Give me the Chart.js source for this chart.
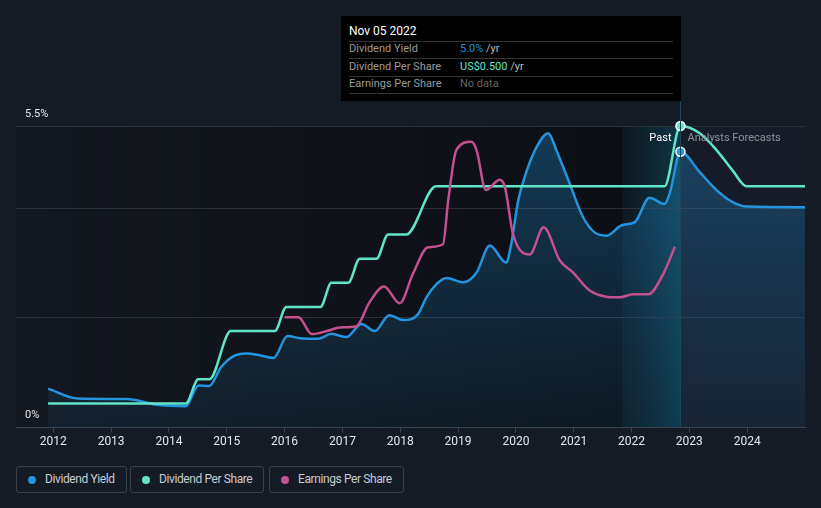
<!DOCTYPE html>
<html>
<head>
<meta charset="utf-8">
<script src="https://cdn.jsdelivr.net/npm/chart.js@4.4.0/dist/chart.umd.min.js"></script>
<style>
  body { margin: 0; background: #151b25; width: 821px; height: 508px; overflow: hidden; position: relative; font-family: Roboto, "Open Sans", sans-serif; }
  #chart { position: absolute; left: 0; top: 0; }
  .tip { position: absolute; left: 341px; top: 16px; width: 340px; height: 85px; background: #000; }
  .tip div { position: absolute; height: 16px; line-height: 16px; white-space: nowrap; font-size: 11px; }
  .tip .sep { height: 0; line-height: 0; left: 8px; width: 324px; border-top: 1px solid #333; }
  .tip .date { left: 8px; top: 7px; color: #fff; font-size: 12px; }
  .tip .lab { left: 8px; color: #9b9b9b; }
  .tip .val { left: 119px; color: #bbb; }
  .legend div.item { position: absolute; top: 466px; height: 27px; box-sizing: border-box; border: 1px solid #3a404c; border-radius: 3px; }
  .legend .dot { position: absolute; left: 11px; top: 9px; width: 8px; height: 8px; border-radius: 50%; }
  .legend .txt { position: absolute; left: 28px; top: 0; line-height: 25px; font-size: 12px; letter-spacing: -0.4px; color: #c9ccd2; white-space: nowrap; }
</style>
</head>
<body>
<canvas id="chart" width="821" height="460"></canvas>

<div class="tip">
  <div class="date">Nov 05 2022</div>
  <div class="sep" style="top:25px"></div>
  <div class="lab" style="top:25px">Dividend Yield</div>
  <div class="val" style="top:25px"><span style="color:#2394df">5.0%</span> /yr</div>
  <div class="sep" style="top:42px"></div>
  <div class="lab" style="top:43px">Dividend Per Share</div>
  <div class="val" style="top:43px"><span style="color:#61e5c9">US$0.500</span> /yr</div>
  <div class="sep" style="top:60px"></div>
  <div class="lab" style="top:60px">Earnings Per Share</div>
  <div class="val" style="top:60px; color:#666">No data</div>
  <div class="sep" style="top:77px"></div>
</div>

<div class="legend">
  <div class="item" style="left:16px; width:111px"><span class="dot" style="background:#2394df"></span><span class="txt">Dividend Yield</span></div>
  <div class="item" style="left:130px; width:134px"><span class="dot" style="background:#61e5c9"></span><span class="txt">Dividend Per Share</span></div>
  <div class="item" style="left:269px; width:135px"><span class="dot" style="background:#c4508f"></span><span class="txt">Earnings Per Share</span></div>
</div>

<script>
// x values are decimal years
const yieldDates = [2011.91, 2012.42, 2013.26, 2013.83, 2014.29, 2014.51, 2014.70, 2014.90, 2015.11, 2015.34,
  2015.57, 2015.81, 2016.05, 2016.27, 2016.58, 2016.81, 2017.07, 2017.33, 2017.56, 2017.81,
  2018.05, 2018.31, 2018.45, 2018.63, 2018.80, 2019.09, 2019.32, 2019.55, 2019.83, 2019.92,
  2020.04, 2020.18, 2020.36, 2020.56, 2020.70, 2020.93, 2021.16, 2021.36, 2021.57, 2021.83,
  2022.06, 2022.31, 2022.57, 2022.66, 2022.846, 2023.18, 2023.47, 2023.75, 2023.99, 2025.0];
const yieldValues = [0.71, 0.53, 0.52, 0.41, 0.39, 0.77, 0.76, 1.10, 1.30, 1.35,
  1.32, 1.27, 1.67, 1.63, 1.62, 1.71, 1.65, 1.89, 1.76, 2.05,
  1.96, 2.07, 2.37, 2.62, 2.73, 2.65, 2.83, 3.32, 3.01, 3.35,
  4.14, 4.66, 5.12, 5.37, 5.06, 4.45, 3.84, 3.56, 3.50, 3.69,
  3.75, 4.19, 4.08, 4.27, 5.03, 4.66, 4.33, 4.11, 4.03, 4.02];

const dpsDates = [2011.91, 2014.29, 2014.51, 2014.70, 2015.07, 2015.83, 2016.03, 2016.62, 2016.81, 2017.10,
  2017.30, 2017.59, 2017.79, 2018.10, 2018.62, 2022.57, 2022.846, 2023.18, 2023.47, 2023.75, 2023.99, 2025.0];
const dpsValues = [0.04, 0.04, 0.08, 0.08, 0.16, 0.16, 0.20, 0.20, 0.24, 0.24,
  0.28, 0.28, 0.32, 0.32, 0.40, 0.40, 0.50, 0.488, 0.46, 0.426, 0.40, 0.40];

const epsDates = [2016.0, 2016.24, 2016.47, 2016.73, 2016.96, 2017.24, 2017.47, 2017.72, 2017.99, 2018.22,
  2018.48, 2018.74, 2018.83, 2018.97, 2019.23, 2019.32, 2019.48, 2019.72, 2019.81, 2019.95,
  2020.24, 2020.48, 2020.76, 2020.99, 2021.28, 2021.80, 2022.03, 2022.29, 2022.55, 2022.75];
const epsValues = [0.183, 0.183, 0.155, 0.160, 0.166, 0.168, 0.208, 0.234, 0.206, 0.255,
  0.299, 0.304, 0.377, 0.460, 0.474, 0.460, 0.394, 0.411, 0.399, 0.321,
  0.287, 0.332, 0.277, 0.257, 0.227, 0.216, 0.221, 0.221, 0.255, 0.300];

const yearTicks = [2012, 2013, 2014, 2015, 2016, 2017, 2018, 2019, 2020, 2021, 2022, 2023, 2024];
const yieldTicks = [0, 2, 4, 5.5];
const forecastStart = 2022.846;
const pastBandStart = 2021.84;

const toPoints = (xs, ys) => xs.map((x, i) => ({ x, y: ys[i] }));
const markAt = () => (c) => (c.raw && c.raw.x === forecastStart ? 4.5 : 0);

const bands = {
  id: "bands",
  beforeDraw(chart) {
    const { ctx, chartArea: a, scales: { x } } = chart;
    const xf = x.getPixelForValue(forecastStart);
    const xp = x.getPixelForValue(pastBandStart);
    ctx.save();
    let g = ctx.createLinearGradient(a.left, 0, xf, 0);
    g.addColorStop(0, "#13171f");
    g.addColorStop(1, "#0b0e13");
    ctx.fillStyle = g;
    ctx.fillRect(a.left, a.top, xf - a.left, a.bottom - a.top);
    ctx.fillStyle = "#161c27";
    ctx.fillRect(xf, a.top, a.right - xf, a.bottom - a.top);
    g = ctx.createLinearGradient(xp, 0, xf, 0);
    g.addColorStop(0, "rgba(20,100,120,0.12)");
    g.addColorStop(1, "rgba(20,130,165,0.35)");
    ctx.fillStyle = g;
    ctx.fillRect(xp, a.top, xf - xp, a.bottom - a.top);
    ctx.restore();
  },
  afterDatasetsDraw(chart) {
    const { ctx, chartArea: a, scales: { x } } = chart;
    const xf = Math.round(x.getPixelForValue(forecastStart)) + 0.5;
    ctx.save();
    ctx.strokeStyle = "#1d4656";
    ctx.lineWidth = 1;
    ctx.beginPath();
    ctx.moveTo(xf, 101);
    ctx.lineTo(xf, a.bottom);
    ctx.stroke();
    ctx.font = "11px Roboto";
    ctx.textBaseline = "middle";
    ctx.textAlign = "right";
    ctx.fillStyle = "#ffffff";
    ctx.fillText("Past", xf - 9, a.top + 12);
    ctx.textAlign = "left";
    ctx.fillStyle = "#8c919a";
    ctx.fillText("Analysts Forecasts", xf + 7, a.top + 12);
    ctx.restore();
  }
};

new Chart(document.getElementById("chart").getContext("2d"), {
  type: "line",
  data: {
    datasets: [
      {
        label: "Earnings Per Share",
        data: toPoints(epsDates, epsValues),
        yAxisID: "usd",
        borderColor: "#c4508f",
        borderWidth: 2.5,
        pointRadius: 0,
        fill: false,
      },
      {
        label: "Dividend Per Share",
        data: toPoints(dpsDates, dpsValues),
        yAxisID: "usd",
        borderColor: "#61e5c9",
        borderWidth: 2.5,
        pointRadius: markAt(),
        pointBackgroundColor: "#61e5c9",
        pointBorderColor: "#ffffff",
        pointBorderWidth: 1.5,
        clip: false,
        fill: false,
      },
      {
        label: "Dividend Yield",
        data: toPoints(yieldDates, yieldValues),
        yAxisID: "y",
        borderColor: "#2394df",
        borderWidth: 2.5,
        pointRadius: markAt(),
        pointBackgroundColor: "#2394df",
        pointBorderColor: "#ffffff",
        pointBorderWidth: 1.5,
        clip: false,
        fill: "origin",
        backgroundColor: (c) => {
          const a = c.chart.chartArea;
          if (!a) return "rgba(35,148,223,0.15)";
          const g = c.chart.ctx.createLinearGradient(0, a.top, 0, a.bottom);
          g.addColorStop(0, "rgba(35,148,223,0.32)");
          g.addColorStop(1, "rgba(35,148,223,0.07)");
          return g;
        },
      },
    ],
  },
  options: {
    responsive: false,
    animation: false,
    layout: { padding: { left: 16, right: 16, top: 126, bottom: 9 } },
    plugins: { legend: { display: false }, tooltip: { enabled: false } },
    elements: { line: { cubicInterpolationMode: "monotone" } },
    scales: {
      x: {
        type: "linear",
        min: 2011.355,
        max: 2025.0,
        afterBuildTicks: (s) => { s.ticks = yearTicks.map((v) => ({ value: v })); },
        ticks: { color: "#e6e8eb", font: { family: "Roboto", size: 12 }, padding: 2, autoSkip: false, maxRotation: 0, callback: (v) => String(v) },
        grid: { drawOnChartArea: false, tickLength: 5, color: "#3c414b" },
        border: { color: "#3c414b" },
      },
      y: {
        min: 0,
        max: 5.5,
        afterBuildTicks: (s) => { s.ticks = yieldTicks.map((v) => ({ value: v })); },
        afterFit: (s) => { s.width = 0; },
        ticks: {
          mirror: true, padding: 9, labelOffset: -12, color: "#e6e8eb",
          font: { family: "Roboto", size: 11 },
          callback: (v) => (v === 0 || v === 5.5 ? v + "%" : ""),
        },
        grid: { color: "#2b3039", drawTicks: false },
        border: { display: false },
      },
      usd: { display: false, min: 0, max: 0.5 },
    },
  },
  plugins: [bands],
});
</script>
</body>
</html>
